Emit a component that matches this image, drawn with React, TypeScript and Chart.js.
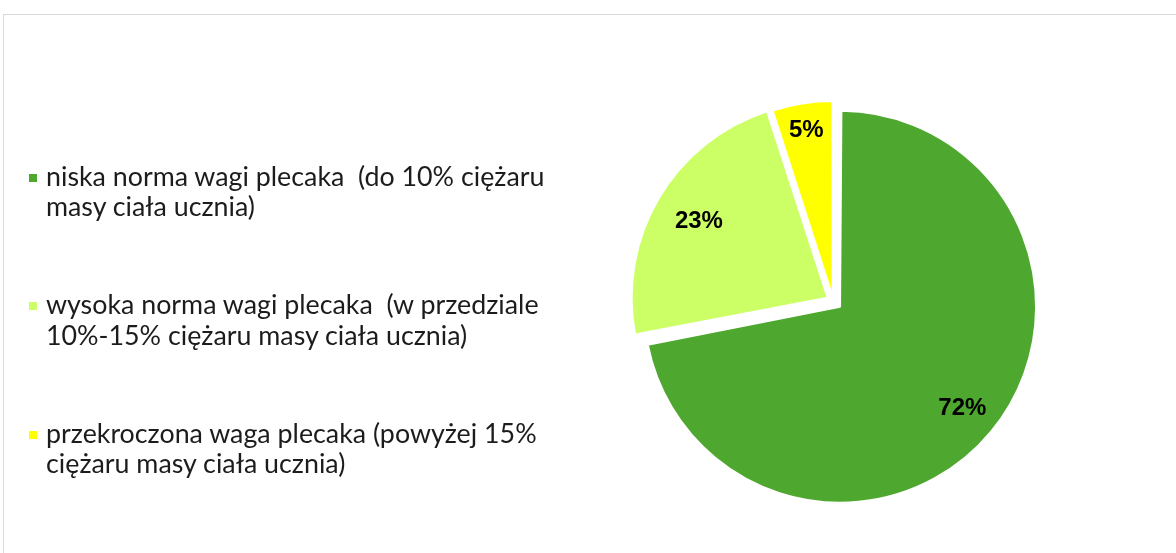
import React, { useEffect, useRef } from "react";
import { Chart, registerables } from "chart.js";

Chart.register(...registerables);

// ---- data ----
const categories = [
  "niska norma wagi plecaka  (do 10% ciężaru\nmasy ciała ucznia)",
  "wysoka norma wagi plecaka  (w przedziale\n10%-15% ciężaru masy ciała ucznia)",
  "przekroczona waga plecaka (powyżej 15%\nciężaru masy ciała ucznia)",
];
const values = [72, 23, 5];

// ---- styles ----
const colors = ["#4EA72E", "#CCFF66", "#FFFF00"];
const explode = [34.5, 26.8, 17];
const labelRadius = [0.81, 0.763, 0.862];
const PIE_R = 196;

const radiusFix = {
  id: "radiusFix",
  afterDatasetUpdate(_chart: any, args: any) {
    args.meta.data.forEach((el: any) => {
      const off = ((el.options && el.options.offset) || 0) / 4;
      const fix = 1 - Math.sin(Math.min(Math.PI, el.circumference || 0));
      el.outerRadius = el.outerRadius - off * fix;
    });
  },
};

const pieLabels = {
  id: "pieLabels",
  afterDatasetsDraw(chart: any) {
    const meta = chart.getDatasetMeta(0);
    const ctx = chart.ctx;
    ctx.save();
    ctx.font = "bold 24px 'Liberation Sans', Arial, sans-serif";
    ctx.fillStyle = "#000000";
    ctx.textAlign = "center";
    ctx.textBaseline = "middle";
    meta.data.forEach((el: any, i: number) => {
      const mid = (el.startAngle + el.endAngle) / 2;
      const off = ((el.options && el.options.offset) || 0) / 4;
      const r = off + labelRadius[i] * PIE_R;
      ctx.fillText(values[i] + "%", el.x + Math.cos(mid) * r, el.y + Math.sin(mid) * r);
    });
    ctx.restore();
  },
};

export default function App() {
  const ref = useRef<HTMLCanvasElement | null>(null);

  useEffect(() => {
    if (!ref.current) return;
    const chart = new Chart(ref.current, {
      type: "pie",
      data: {
        labels: categories,
        datasets: [
          {
            data: values,
            backgroundColor: colors,
            borderColor: "#ffffff",
            borderWidth: 2,
            offset: explode,
          } as any,
        ],
      },
      options: {
        responsive: false,
        maintainAspectRatio: false,
        animation: false,
        radius: PIE_R,
        layout: { padding: { left: 490.8, top: 49.4, right: 0, bottom: 0 } },
        plugins: {
          legend: { display: false },
          tooltip: { enabled: false },
        },
      } as any,
      plugins: [radiusFix, pieLabels],
    });
    return () => chart.destroy();
  }, []);

  const legendTop = 160.9;
  const groupGap = 128.5;

  return (
    <div
      style={{
        position: "fixed",
        left: 0,
        top: 0,
        width: 1176,
        height: 553,
        background: "#ffffff",
        overflow: "hidden",
      }}
    >
      <div
        style={{
          position: "absolute",
          left: 3,
          top: 14,
          width: 1300,
          height: 700,
          border: "1px solid #d9d9d9",
          boxSizing: "border-box",
        }}
      />
      <canvas
        ref={ref}
        width={1176}
        height={553}
        style={{ position: "absolute", left: 0, top: 0, width: 1176, height: 553 }}
      />
      {categories.map((c, i) => (
        <React.Fragment key={i}>
          <div
            style={{
              position: "absolute",
              left: 28.5,
              top: legendTop + i * groupGap + 12.6,
              width: 8,
              height: 8,
              background: colors[i],
            }}
          />
          <div
            style={{
              position: "absolute",
              left: 46,
              top: legendTop + i * groupGap,
              fontFamily: "Lato, 'Open Sans', sans-serif",
              fontSize: 26.8,
              lineHeight: "30.5px",
              color: "#1c1c1c",
              whiteSpace: "pre",
            }}
          >
            {c}
          </div>
        </React.Fragment>
      ))}
    </div>
  );
}
